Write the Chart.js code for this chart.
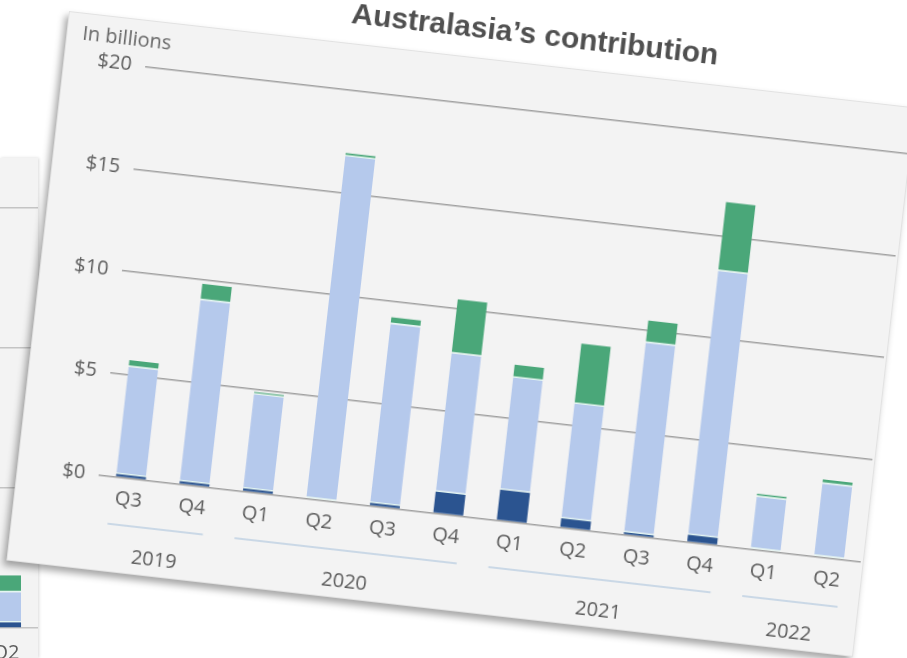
<!DOCTYPE html>
<html>
<head>
<meta charset="utf-8">
<script src="https://cdn.jsdelivr.net/npm/chart.js@4.4.1/dist/chart.umd.min.js"></script>
<style>
  html, body { margin: 0; padding: 0; background: #fff; width: 907px; height: 658px; overflow: hidden; }
  #backPanel {
    position: absolute; left: 0; top: 158px; width: 38px; height: 500px;
    background: #f3f3f3; overflow: hidden;
    box-shadow: 1px 0 3px rgba(0,0,0,0.15);
  }
  #backWrap { position: absolute; left: -26px; top: 0; width: 64px; height: 500px; }
  #card {
    position: absolute; left: 69px; top: 10.5px; width: 852px; height: 553px;
    transform-origin: 0 0; transform: rotate(6.5deg);
    background: #f3f3f3; border: 1px solid #e2e2e2; box-sizing: border-box;
    box-shadow: -3px 5px 7px rgba(0,0,0,0.35);
  }
  #chartWrap { position: absolute; left: 0; top: -55px; width: 852px; height: 608px; }
</style>
</head>
<body>
<div id="backPanel"><div id="backWrap"><canvas id="backChart"></canvas></div></div>
<div id="card"><div id="chartWrap"><canvas id="mainChart"></canvas></div></div>
<script>
// quarters and the year each one belongs to
const quarters = ['Q3', 'Q4', 'Q1', 'Q2', 'Q3', 'Q4', 'Q1', 'Q2', 'Q3', 'Q4', 'Q1', 'Q2'];
const years = ['2019', '2019', '2020', '2020', '2020', '2020', '2021', '2021', '2021', '2021', '2022', '2022'];

// stacked values, in billions (bottom to top)
const darkSeries = [0.15, 0.15, 0.15, 0, 0.15, 1.05, 1.5, 0.45, 0.12, 0.35, 0, 0];
const lightSeries = [5.24, 8.86, 4.61, 16.77, 8.75, 6.77, 5.48, 5.61, 9.28, 12.92, 2.57, 3.57];
const greenSeries = [0.33, 0.81, 0.12, 0.16, 0.35, 2.66, 0.65, 2.96, 1.1, 3.38, 0.16, 0.2];

const yTicks = [0, 5, 10, 15, 20];

// the chart peeking out behind, only its last bar shows
const backQuarters = ['Q2'];
const backDark = [0.2];
const backLight = [1.08];
const backGreen = [0.6];

const labelFont = { family: "'Open Sans', sans-serif", size: 20 };
const textGrey = '#5c5c5c';

const yearGroups = {
    id: 'yearGroups',
    afterDraw(chart) {
        const ctx = chart.ctx;
        const xs = chart.scales.x;
        const bottom = chart.chartArea.bottom;
        ctx.save();
        // axis caption above the $20 tick
        ctx.font = "20px 'Open Sans', sans-serif";
        ctx.fillStyle = '#666';
        ctx.textAlign = 'left';
        ctx.textBaseline = 'middle';
        ctx.fillText('In billions', 15, chart.chartArea.top - 25);

        const groups = [];
        years.forEach((y, i) => {
            const last = groups[groups.length - 1];
            if (last && last.year === y) last.end = i;
            else groups.push({ year: y, start: i, end: i });
        });
        groups.forEach(g => {
            const x1 = xs.getPixelForValue(g.start) - 18;
            const x2 = xs.getPixelForValue(g.end) + 14;
            ctx.strokeStyle = '#bccfe2';
            ctx.lineWidth = 1.5;
            ctx.beginPath();
            ctx.moveTo(x1, bottom + 47.5);
            ctx.lineTo(x2, bottom + 47.5);
            ctx.stroke();
            ctx.fillStyle = textGrey;
            ctx.textAlign = 'center';
            ctx.fillText(g.year, (xs.getPixelForValue(g.start) + xs.getPixelForValue(g.end)) / 2, bottom + 79);
        });
        ctx.restore();
    }
};

const barBorder = { top: 0, left: 0, right: 0, bottom: 1.5 };

new Chart(document.getElementById('mainChart'), {
    type: 'bar',
    data: {
        labels: quarters,
        datasets: [
            { label: 'Dark', data: darkSeries, backgroundColor: '#2b5490', borderWidth: 0 },
            { label: 'Light', data: lightSeries, backgroundColor: '#b5c9ec', borderColor: '#e3f6f1', borderWidth: barBorder, borderSkipped: false },
            { label: 'Green', data: greenSeries, backgroundColor: '#4aa779', borderColor: '#e3f6f1', borderWidth: barBorder, borderSkipped: false }
        ]
    },
    options: {
        responsive: true,
        maintainAspectRatio: false,
        animation: false,
        layout: { padding: { left: 0, right: 4, top: 0, bottom: 0 } },
        datasets: { bar: { categoryPercentage: 1, barPercentage: 0.47 } },
        plugins: {
            legend: { display: false },
            tooltip: { enabled: false },
            title: {
                display: true,
                fullSize: false,
                text: 'Australasia\u2019s contribution',
                color: '#505050',
                font: { family: "'Liberation Sans', Arial, sans-serif", size: 30, weight: 'bold' },
                padding: { top: 8, bottom: 56.5 }
            }
        },
        scales: {
            x: {
                stacked: true,
                grid: { display: false },
                border: { display: false },
                ticks: { color: textGrey, font: labelFont, padding: 2, maxRotation: 0 },
                afterFit(scale) { scale.height = 96.5; }
            },
            y: {
                stacked: true,
                min: 0,
                max: 20,
                afterBuildTicks(scale) { scale.ticks = yTicks.map(v => ({ value: v })); },
                grid: { color: '#a0a0a0', lineWidth: 1.5, drawTicks: false },
                border: { display: false },
                ticks: { color: textGrey, font: labelFont, padding: 14, callback: v => '$' + v },
                afterFit(scale) { scale.width = 81.4; }
            }
        }
    },
    plugins: [yearGroups]
});

new Chart(document.getElementById('backChart'), {
    type: 'bar',
    data: {
        labels: backQuarters,
        datasets: [
            { data: backDark, backgroundColor: '#2b5490' },
            { data: backLight, backgroundColor: '#b5c9ec', borderColor: '#e3f6f1', borderWidth: barBorder, borderSkipped: false },
            { data: backGreen, backgroundColor: '#4aa779', borderColor: '#e3f6f1', borderWidth: barBorder, borderSkipped: false }
        ]
    },
    options: {
        responsive: true,
        maintainAspectRatio: false,
        animation: false,
        layout: { padding: { top: 50, left: 0, right: 0, bottom: 0 } },
        datasets: { bar: { categoryPercentage: 1, barPercentage: 0.47 } },
        plugins: { legend: { display: false }, tooltip: { enabled: false } },
        scales: {
            x: {
                stacked: true,
                grid: { display: false },
                border: { display: false },
                ticks: { color: textGrey, font: labelFont, padding: 5, maxRotation: 0 },
                afterFit(scale) { scale.height = 30; }
            },
            y: {
                stacked: true,
                min: 0,
                max: 15,
                afterBuildTicks(scale) { scale.ticks = [0, 5, 10, 15].map(v => ({ value: v })); },
                grid: { color: '#c4c4c4', lineWidth: 1.5, drawTicks: false },
                border: { display: false },
                ticks: { display: false },
                afterFit(scale) { scale.width = 0; }
            }
        }
    }
});
</script>
</body>
</html>
